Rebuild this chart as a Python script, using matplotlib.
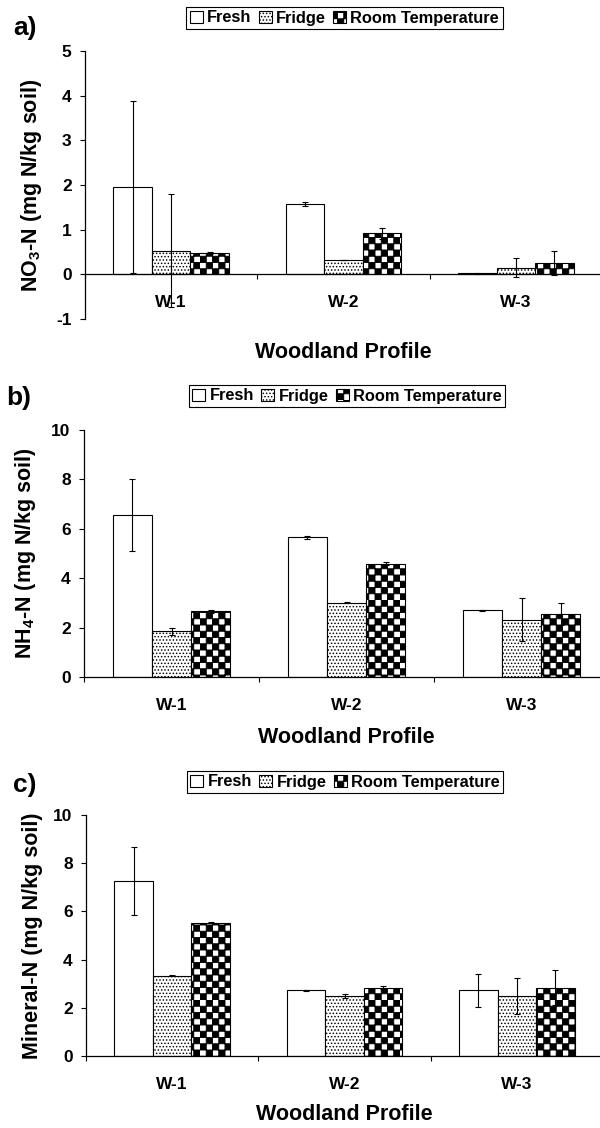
import matplotlib
matplotlib.use('Agg')
import matplotlib.pyplot as plt
import matplotlib.hatch as mhatch
from matplotlib.path import Path
import numpy as np

plt.rcParams['font.family'] = ['Liberation Sans', 'DejaVu Sans']
plt.rcParams['font.weight'] = 'bold'
plt.rcParams['mathtext.fontset'] = 'custom'
plt.rcParams['mathtext.rm'] = 'Liberation Sans:bold'
plt.rcParams['mathtext.default'] = 'rm'
plt.rcParams['axes.unicode_minus'] = False
plt.rcParams['hatch.linewidth'] = 0.65

categories = ['W-1', 'W-2', 'W-3']
series = ['Fresh', 'Fridge', 'Room Temperature']

# a) nitrate
no3_fresh = [1.95, 1.58, 0.02]
no3_fresh_err = [1.93, 0.05, 0.02]
no3_fridge = [0.53, 0.32, 0.15]
no3_fridge_err = [1.27, 0.01, 0.22]
no3_room = [0.47, 0.92, 0.26]
no3_room_err = [0.02, 0.12, 0.27]

# b) ammonium
nh4_fresh = [6.55, 5.65, 2.70]
nh4_fresh_err = [1.45, 0.07, 0.03]
nh4_fridge = [1.85, 3.01, 2.32]
nh4_fridge_err = [0.14, 0.02, 0.88]
nh4_room = [2.66, 4.59, 2.55]
nh4_room_err = [0.05, 0.06, 0.46]

# c) mineral N
min_fresh = [7.25, 2.73, 2.73]
min_fresh_err = [1.41, 0.02, 0.69]
min_fridge = [3.34, 2.49, 2.49]
min_fridge_err = [0.03, 0.07, 0.74]
min_room = [5.53, 2.84, 2.84]
min_room_err = [0.03, 0.07, 0.72]


# checkerboard hatch (takes the place of the '*' star hatch, which is not used here)
class CheckerHatch(mhatch.HatchPatternBase):
    def __init__(self, hatch, density):
        self.n = 16 if '*' in hatch else 0
        self.num_vertices = self.n * self.n // 2 * 5

    def set_vertices_and_codes(self, vertices, codes):
        s = 1.0 / self.n
        k = 0
        for i in range(self.n):
            for j in range(self.n):
                if (i + j) % 2:
                    continue
                vertices[k:k + 5] = [(i * s, j * s), ((i + 1) * s, j * s), ((i + 1) * s, (j + 1) * s),
                                     (i * s, (j + 1) * s), (i * s, j * s)]
                codes[k:k + 5] = [Path.MOVETO, Path.LINETO, Path.LINETO, Path.LINETO, Path.CLOSEPOLY]
                k += 5


mhatch._hatch_types[:] = [h for h in mhatch._hatch_types if h is not mhatch.Stars] + [CheckerHatch]

hatches = ['', '.....', '*']

# rect = (left, right, top, bottom) in pixels; the plot area runs a little past the right edge
panels = [
    dict(letter='a)', ylabel=r'NO$_3$-N (mg N/kg soil)', ylim=(-1, 5), yticks=np.arange(-1, 6, 1),
         vals=[no3_fresh, no3_fridge, no3_room], errs=[no3_fresh_err, no3_fridge_err, no3_room_err],
         rect=(85, 602, 51, 319), letter_xy=(13, 28), leg_xy=(344.5, 18), xlabel_y=-0.085, ylabel_x=-0.080),
    dict(letter='b)', ylabel=r'NH$_4$-N (mg N/kg soil)', ylim=(0, 10), yticks=np.arange(0, 11, 2),
         vals=[nh4_fresh, nh4_fridge, nh4_room], errs=[nh4_fresh_err, nh4_fridge_err, nh4_room_err],
         rect=(84, 609, 430, 677), letter_xy=(6, 398), leg_xy=(347, 396), xlabel_y=-0.202, ylabel_x=-0.087),
    dict(letter='c)', ylabel='Mineral-N (mg N/kg soil)', ylim=(0, 10), yticks=np.arange(0, 11, 2),
         vals=[min_fresh, min_fridge, min_room], errs=[min_fresh_err, min_fridge_err, min_room_err],
         rect=(86, 603, 815, 1056), letter_xy=(13, 785), leg_xy=(345, 782), xlabel_y=-0.199, ylabel_x=-0.084),
]

W, H = 600, 1128
fig = plt.figure(figsize=(W / 100, H / 100), dpi=100)

x = np.arange(len(categories))
width = 0.224

for p in panels:
    left, right, top, bottom = p['rect']
    ax = fig.add_axes([left / W, 1 - bottom / H, (right - left) / W, (bottom - top) / H])
    bars = []
    for k, name in enumerate(series):
        b = ax.bar(x + (k - 1) * width, p['vals'][k], width, yerr=p['errs'][k],
                   color='white', edgecolor='black', linewidth=0.8, hatch=hatches[k], label=name,
                   error_kw=dict(ecolor='black', elinewidth=0.8, capsize=2, capthick=0.8))
        bars.append(b)

    ax.set_xlim(-0.5, 2.5)
    ax.set_ylim(*p['ylim'])
    ax.set_yticks(p['yticks'])
    ax.spines['top'].set_visible(False)
    ax.spines['right'].set_visible(False)
    ax.spines['left'].set_linewidth(0.9)
    ax.spines['bottom'].set_linewidth(0.9)
    ax.spines['bottom'].set_position(('data', 0))

    ax.set_xticks([-0.5, 0.5, 1.5, 2.5])
    ax.set_xticklabels([])
    ax.set_xticks(x, minor=True)
    ax.set_xticklabels(categories, minor=True)
    ax.tick_params(axis='x', which='major', direction='out', length=3.6, width=0.8)
    ax.tick_params(axis='x', which='minor', length=0, pad=15, labelsize=12.5)
    ax.tick_params(axis='y', direction='out', length=3.6, width=0.8, pad=6, labelsize=12.5)

    ax.set_ylabel(p['ylabel'], fontsize=15.5, fontweight='bold')
    ax.yaxis.set_label_coords(p['ylabel_x'], 0.5)
    ax.set_xlabel('Woodland Profile', fontsize=15.5, fontweight='bold')
    ax.xaxis.set_label_coords(0.5, p['xlabel_y'])

    lgx, lgy = p['leg_xy']
    leg = ax.legend(handles=bars, labels=series, loc='center', ncol=3,
                    bbox_to_anchor=(lgx / W, 1 - lgy / H), bbox_transform=fig.transFigure,
                    frameon=True, fancybox=False, edgecolor='black', framealpha=1,
                    handlelength=0.8, handleheight=0.8, handletextpad=0.25, columnspacing=0.45,
                    borderpad=0.22, borderaxespad=0, prop={'weight': 'bold', 'size': 11.8})
    leg.get_frame().set_linewidth(0.8)

    lx, ly = p['letter_xy']
    fig.text(lx / W, 1 - ly / H, p['letter'], fontsize=19, fontweight='bold', ha='left', va='center')

fig.savefig('out.png', dpi=100)
